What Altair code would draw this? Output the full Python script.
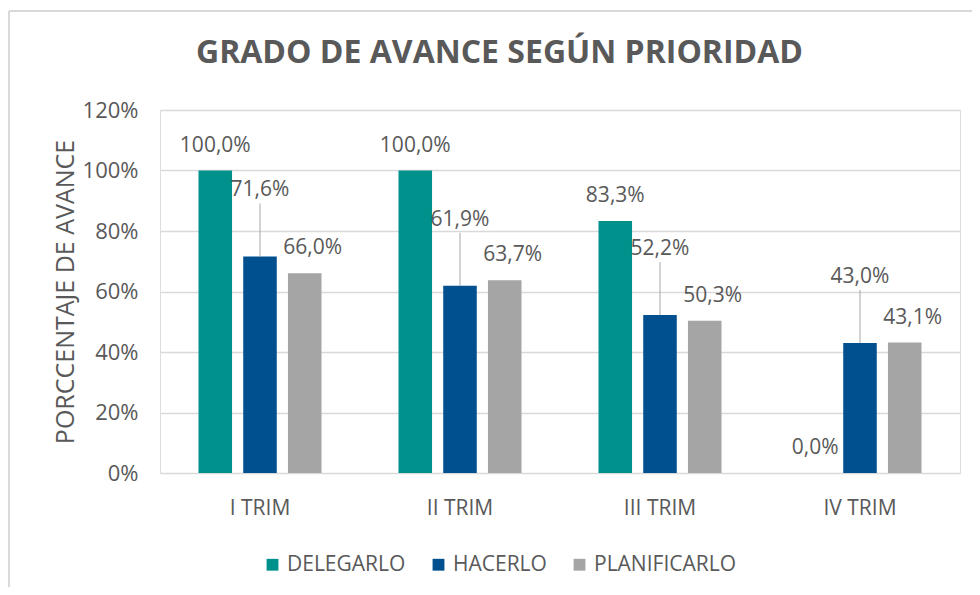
import altair as alt
import pandas as pd

trimestres = ["I TRIM", "II TRIM", "III TRIM", "IV TRIM"]
series = ["DELEGARLO", "HACERLO", "PLANIFICARLO"]
delegarlo = [100.0, 100.0, 83.3, 0.0]
hacerlo = [71.6, 61.9, 52.2, 43.0]
planificarlo = [66.0, 63.7, 50.3, 43.1]
colores = ["#00918C", "#00508F", "#A5A5A5"]
y_ticks = [0, 20, 40, 60, 80, 100, 120]

rows = []
for s, vals in zip(series, [delegarlo, hacerlo, planificarlo]):
    for t, v in zip(trimestres, vals):
        rows.append({"trim": t, "serie": s, "valor": v,
                     "etiqueta": f"{v:.1f}%".replace(".", ",")})
df = pd.DataFrame(rows)

FONT = "Open Sans"
GRAY = "#595959"

x_enc = alt.X("trim:N", sort=trimestres,
              scale=alt.Scale(paddingInner=0.385, paddingOuter=0.1925),
              axis=alt.Axis(title=None, labelAngle=0, labelFont=FONT, labelFontSize=21,
                            labelColor=GRAY, ticks=False, domain=False, labelPadding=24))
xo_enc = alt.XOffset("serie:N", sort=series,
                     scale=alt.Scale(paddingInner=0.25, paddingOuter=0))
y_scale = alt.Scale(domain=[0, 120], nice=False)

base = alt.Chart(df)

bars = base.mark_bar().encode(
    x=x_enc,
    xOffset=xo_enc,
    y=alt.Y("valor:Q", scale=y_scale,
            axis=alt.Axis(title="PORCCENTAJE DE AVANCE", values=y_ticks,
                          labelExpr="datum.value + '%'", labelFont=FONT, labelFontSize=22,
                          labelColor=GRAY, titleFont=FONT, titleFontSize=25,
                          titleFontWeight="normal", titleColor=GRAY, ticks=False,
                          domain=False, labelPadding=22, titlePadding=4,
                          gridColor="#D9D9D9", gridWidth=1.5)),
    color=alt.Color("serie:N", sort=series,
                    scale=alt.Scale(domain=series, range=colores),
                    legend=alt.Legend(title=None, orient="none", direction="horizontal",
                                      legendX=102, legendY=444, symbolType="square",
                                      symbolSize=140, symbolStrokeWidth=0,
                                      labelFont=FONT, labelFontSize=21, labelColor=GRAY,
                                      columnPadding=22, labelOffset=4)),
)

txt_common = dict(font=FONT, fontSize=21, color=GRAY, baseline="middle", align="center")

lab_del = base.transform_filter(alt.datum.serie == "DELEGARLO").mark_text(dy=-25, **txt_common).encode(
    x=alt.X("trim:N", sort=trimestres), xOffset=xo_enc,
    y=alt.Y("valor:Q", scale=y_scale), text="etiqueta:N")

lab_hac = base.transform_filter(alt.datum.serie == "HACERLO").mark_text(dy=-66, **txt_common).encode(
    x=alt.X("trim:N", sort=trimestres), xOffset=xo_enc,
    y=alt.Y("valor:Q", scale=y_scale), text="etiqueta:N")

lead_hac = base.transform_filter(alt.datum.serie == "HACERLO").mark_rule(
    y2Offset=-53, color="#A6A6A6", strokeWidth=1).encode(
    x=alt.X("trim:N", sort=trimestres), xOffset=xo_enc,
    y=alt.Y("valor:Q", scale=y_scale), y2="valor:Q")

lab_pla = base.transform_filter(alt.datum.serie == "PLANIFICARLO").mark_text(dy=-25, dx=8, **txt_common).encode(
    x=alt.X("trim:N", sort=trimestres), xOffset=xo_enc,
    y=alt.Y("valor:Q", scale=y_scale), text="etiqueta:N")

border_top = alt.Chart(pd.DataFrame({"a": [0]})).mark_rule(color="#D9D9D9", strokeWidth=2).encode(
    x=alt.value(-151), x2=alt.value(830), y=alt.value(-99))
border_left = alt.Chart(pd.DataFrame({"a": [0]})).mark_rule(color="#D9D9D9", strokeWidth=2).encode(
    x=alt.value(-151), y=alt.value(-99), y2=alt.value(480))

chart = alt.layer(bars, lead_hac, lab_del, lab_hac, lab_pla, border_top, border_left).properties(
    width=800, height=363,
    title=alt.TitleParams("GRADO DE AVANCE SEGÚN PRIORIDAD", font=FONT, fontSize=32,
                          fontWeight="bold", color=GRAY, anchor="middle", frame="bounds",
                          offset=-60),
    autosize=alt.AutoSizeParams(type="none"),
    padding={"left": 152, "top": 102, "right": 12, "bottom": 114},
).configure_view(stroke=None).configure(background="white")

chart.save("out.html", embed_options={"renderer": "svg", "actions": False})
